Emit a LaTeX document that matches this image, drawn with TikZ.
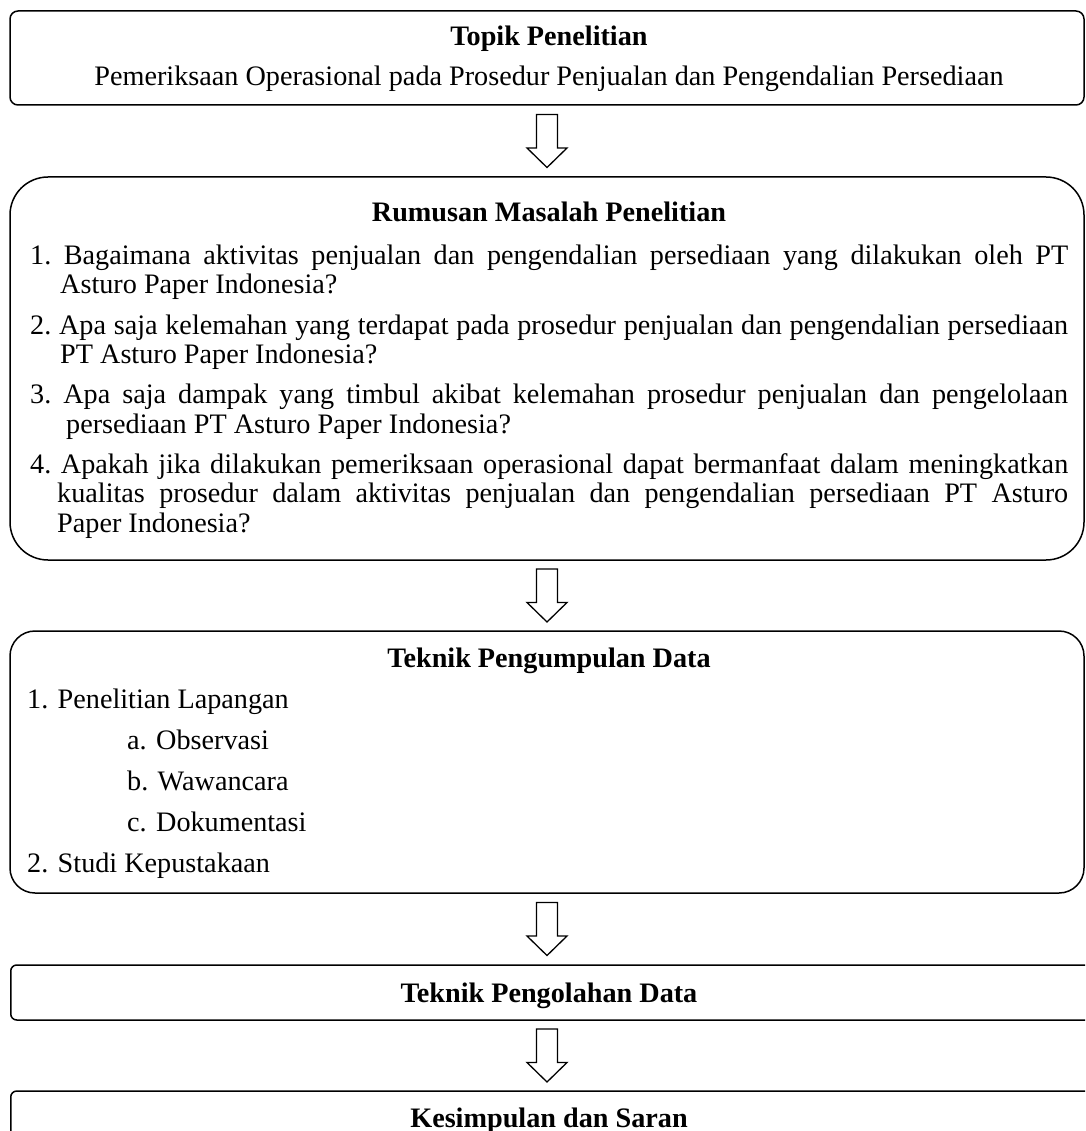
\documentclass[tikz,border=0pt]{standalone}
\usepackage{fontspec}
\setmainfont{Liberation Serif}
\usetikzlibrary{positioning,calc}

\newcommand{\flowfont}{\fontsize{28.2}{29.5}\selectfont\hyphenpenalty=10000\exhyphenpenalty=10000}
% hanging list item: #1 = hang, #2 = label, #3 = text
\newcommand{\hangitem}[3]{\hspace*{-#1}#2~#3}

\begin{document}
\begin{tikzpicture}[x=1pt,y=-1pt,
	box/.style={draw, line width=1.5pt, inner sep=0pt, minimum width=1074pt},
	title/.style={font=\flowfont\bfseries, anchor=base, inner sep=0pt},
	body/.style={font=\flowfont, anchor=base west, inner sep=0pt},
	listitem/.style={body, text width=1068pt-30pt-#1, align=justify},
	blockarrow/.pic={\draw[line width=1.3pt, line join=miter] (-10.5,-26.5) -- (10.5,-26.5) -- (10.5,7) -- (20,7) -- (0,26.5) -- (-20,7) -- (-10.5,7) -- cycle;}]
	\useasboundingbox (0,0) rectangle (1085,1131);
	\clip (0,0) rectangle (1085,1131);

	% Boxes:
	\node[box, rounded corners=8pt, minimum height=94pt] (topik) at (547,58) {};
	\node[box, rounded corners=38pt, minimum height=383pt] (rumusan) at (547,368.5) {};
	\node[box, rounded corners=25pt, minimum height=262pt] (teknik) at (547,762) {};
	\node[box, rounded corners=6pt, minimum height=55pt, minimum width=1100pt, anchor=west] (pengolahan) at (10,992.5) {};
	\node[box, rounded corners=6pt, minimum height=55pt, minimum width=1100pt, anchor=west] (kesimpulan) at (10,1118.5) {};

	% Arrows:
	\pic at ($(topik.south)!0.5!(rumusan.north)$) {blockarrow};
	\pic at ($(rumusan.south)!0.5!(teknik.north)$) {blockarrow};
	\pic at ($(teknik.south)!0.5!(teknik.south |- pengolahan.north)$) {blockarrow};
	\pic at ($(teknik.south |- pengolahan.south)!0.5!(teknik.south |- kesimpulan.north)$) {blockarrow};

	% Labels:
	\node[title] (topikjudul) at (549,46) {Topik Penelitian};
	\node[body, anchor=base] (topikisi) at (549,86) {Pemeriksaan Operasional pada Prosedur Penjualan dan Pengendalian Persediaan};

	\node[title] (rumusanjudul) at (549,222) {Rumusan Masalah Penelitian};
	\node[listitem=30pt] (rumusan1) at (60,264.5) {\hangitem{30pt}{1.}{Bagaimana aktivitas penjualan dan pengendalian persediaan yang dilakukan oleh PT\linebreak Asturo Paper Indonesia?}};
	\node[listitem=30pt] (rumusan2) at (60,334) {\hangitem{30pt}{2.}{Apa saja kelemahan yang terdapat pada prosedur penjualan dan pengendalian persediaan\linebreak PT Asturo Paper Indonesia?}};
	\node[listitem=36pt] (rumusan3) at (66,403.5) {\hangitem{36pt}{3.}{Apa saja dampak yang timbul akibat kelemahan prosedur penjualan dan pengelolaan\linebreak persediaan PT Asturo Paper Indonesia?}};
	\node[listitem=27pt] (rumusan4) at (57,473) {\hangitem{27pt}{4.}{Apakah jika dilakukan pemeriksaan operasional dapat bermanfaat dalam meningkatkan\linebreak kualitas prosedur dalam aktivitas penjualan dan pengendalian persediaan PT Asturo\linebreak Paper Indonesia?}};

	\node[title] (teknikjudul) at (549,667) {Teknik Pengumpulan Data};
	\node[body] (lapangan) at (27,708) {1. Penelitian Lapangan};
	\node[body] (observasi) at (127,749) {a. Observasi};
	\node[body] (wawancara) at (127,790) {b. Wawancara};
	\node[body] (dokumentasi) at (127,831) {c. Dokumentasi};
	\node[body] (pustaka) at (27,872) {2. Studi Kepustakaan};

	\node[title] (pengolahanjudul) at (549,1002) {Teknik Pengolahan Data};
	\node[title] (kesimpulanjudul) at (549,1127) {Kesimpulan dan Saran};

\end{tikzpicture}
\end{document}
